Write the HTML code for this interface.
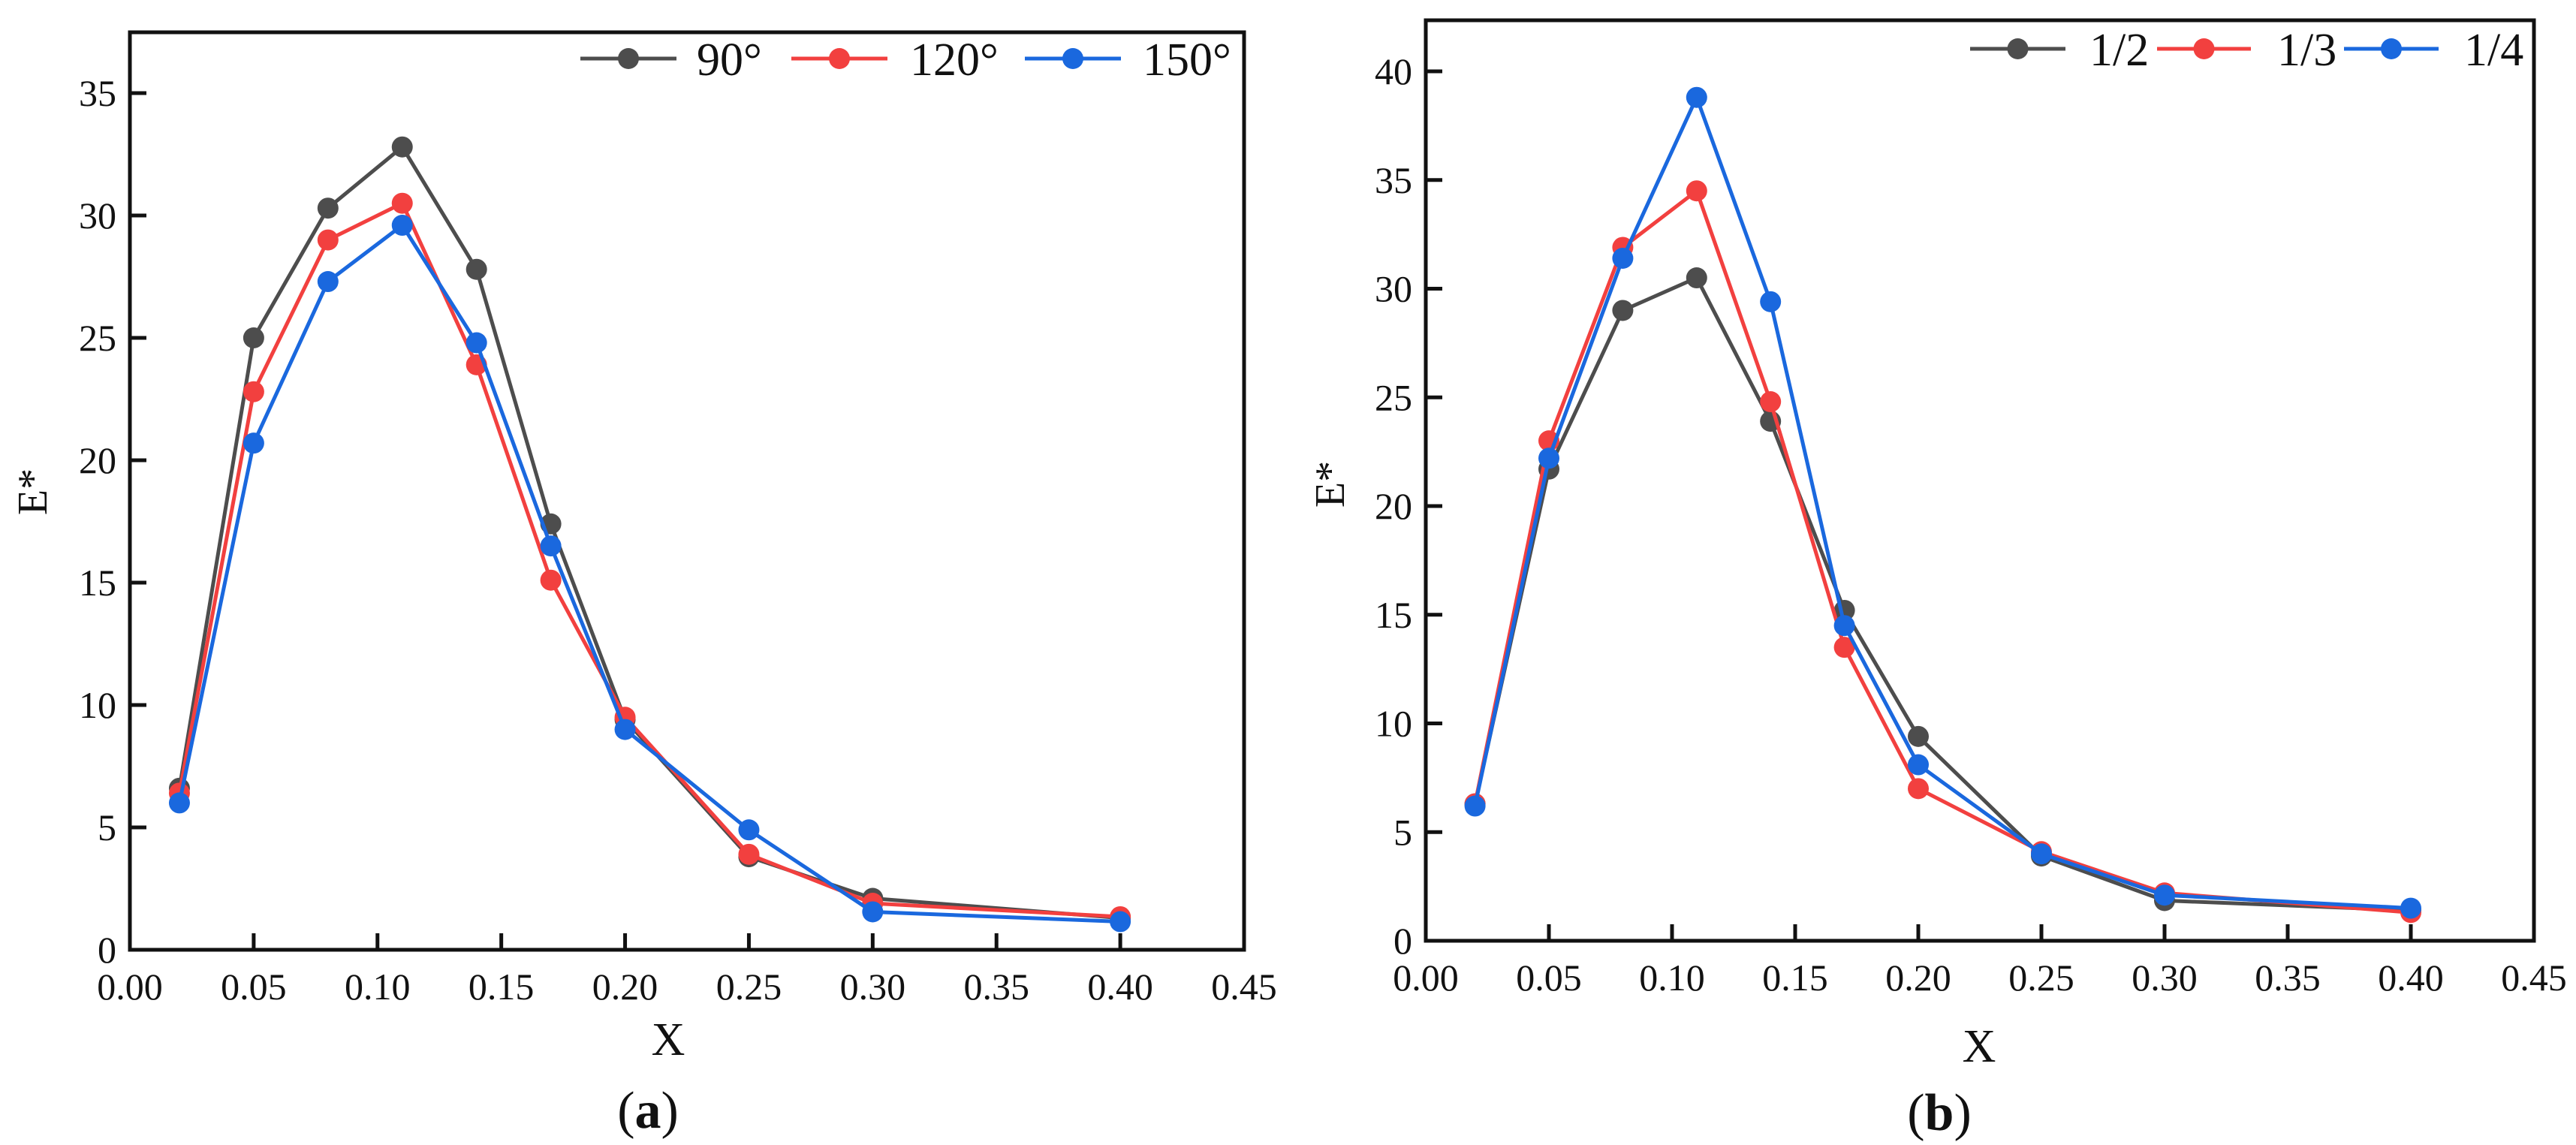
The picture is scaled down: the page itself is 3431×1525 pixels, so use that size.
<!DOCTYPE html>
<html><head><meta charset="utf-8">
<style>
html,body{margin:0;padding:0;background:#fff;}
svg{display:block;}
text{font-family:"Liberation Serif","Times New Roman",serif;fill:#111;}
</style></head>
<body>
<svg id="fig" width="3431" height="1525" viewBox="0 0 3431 1525" xmlns="http://www.w3.org/2000/svg"></svg>
<script>
// ---- data ----
const xValues = [0.02,0.05,0.08,0.11,0.14,0.17,0.20,0.25,0.30,0.40];
const xTicks = [0.00,0.05,0.10,0.15,0.20,0.25,0.30,0.35,0.40,0.45];
const xTickLabels = ["0.00","0.05","0.10","0.15","0.20","0.25","0.30","0.35","0.40","0.45"];
const leftYTicks = [0,5,10,15,20,25,30,35];
const rightYTicks = [0,5,10,15,20,25,30,35,40];
const leftNames = ["90°","120°","150°"];
const left90 = [6.6,25.0,30.3,32.8,27.8,17.4,9.4,3.8,2.1,1.3];
const left120 = [6.4,22.8,29.0,30.5,23.9,15.1,9.5,3.9,1.9,1.35];
const left150 = [6.0,20.7,27.3,29.6,24.8,16.5,9.0,4.9,1.55,1.15];
const rightNames = ["1/2","1/3","1/4"];
const rightHalf = [6.3,21.7,29.0,30.5,23.9,15.2,9.4,3.9,1.85,1.4];
const rightThird = [6.3,23.0,31.9,34.5,24.8,13.5,7.0,4.1,2.2,1.3];
const rightQuarter = [6.2,22.2,31.4,38.8,29.4,14.5,8.1,4.0,2.1,1.5];
const colors = ["#4d4d4d","#f2403f","#1a68de"];

const NS="http://www.w3.org/2000/svg";
const svg=document.getElementById('fig');
function mk(tag,attrs,parent){const e=document.createElementNS(NS,tag);for(const k in attrs)e.setAttribute(k,attrs[k]);(parent||svg).appendChild(e);return e;}

function panel(cfg){
  const g=mk('g',{});
  
  
  const X=v=>cfg.x0+(v-0)/(0.45)*(cfg.x1-cfg.x0);
  const Y=v=>cfg.yb-(v/5)*cfg.per5;
  cfg.series.forEach((s,si)=>{
    const sg=mk('g',{},g);
    
    
    const pts=xValues.map((x,i)=>X(x).toFixed(1)+','+Y(s[i]).toFixed(1)).join(' ');
    const pl=mk('polyline',{points:pts,fill:'none',stroke:colors[si],'stroke-width':5,'stroke-linejoin':'round'},sg);
    
    
    xValues.forEach((x,i)=>{
      const c=mk('circle',{cx:X(x),cy:Y(s[i]),r:14,fill:colors[si]},sg);
      
      
    });
  });
  const fr=mk('rect',{x:cfg.x0,y:cfg.yt,width:cfg.x1-cfg.x0,height:cfg.yb-cfg.yt,fill:'none',stroke:'#111','stroke-width':5},g);
  
  
  xTicks.forEach((t,i)=>{
    const tk=mk('line',{x1:X(t),x2:X(t),y1:cfg.yb,y2:cfg.yb-22,stroke:'#111','stroke-width':5},g);
    
    
    const tl=mk('text',{x:X(t),y:cfg.yb+66,'font-size':50,'text-anchor':'middle'},g);
    tl.textContent=xTickLabels[i];
    
    
  });
  cfg.yTicks.forEach(t=>{
    const tk=mk('line',{x1:cfg.x0,x2:cfg.x0+22,y1:Y(t),y2:Y(t),stroke:'#111','stroke-width':5},g);
    
    
    const tl=mk('text',{x:cfg.x0-18,y:Y(t)+17,'font-size':50,'text-anchor':'end'},g);
    tl.textContent=String(t);
    
    
  });
  const yt=mk('text',{x:cfg.ytx,y:cfg.yty,'font-size':56,'text-anchor':'middle',transform:`rotate(-90 ${cfg.ytx} ${cfg.yty})`},g);
  yt.textContent='E*';
  
  
  const xt=mk('text',{x:cfg.xtx,y:cfg.xty,'font-size':62,'text-anchor':'middle'},g);
  xt.textContent='X';
  
  
  const cap=mk('text',{x:cfg.capx,y:cfg.capy,'font-size':70,'text-anchor':'middle'},g);
  cap.innerHTML='(<tspan font-weight="bold">'+cfg.letter+'</tspan>)';
  
  
  cfg.legend.forEach((L,i)=>{
    const lg=mk('g',{},g);
    
    
    mk('line',{x1:L.l1,x2:L.l2,y1:cfg.legy,y2:cfg.legy,stroke:colors[i],'stroke-width':5},lg);
    mk('circle',{cx:(L.l1+L.l2)/2,cy:cfg.legy,r:14,fill:colors[i]},lg);
    const tx=mk('text',{x:L.tx,y:cfg.legy+22,'font-size':cfg.legfs},lg);
    tx.textContent=cfg.names[i];
  });
}

panel({name:'chart-a',x0:173,x1:1657,yt:43,yb:1265,per5:163,yTicks:leftYTicks,
  series:[left90,left120,left150],names:leftNames,letter:'a',
  ytx:62,yty:655,xtx:890,xty:1405,capx:863,capy:1502,
  legy:78,legfs:62,
  legend:[{l1:773,l2:901,tx:928},{l1:1054,l2:1182,tx:1212},{l1:1365,l2:1493,tx:1522}]});
panel({name:'chart-b',x0:1899,x1:3375,yt:27,yb:1253,per5:144.75,yTicks:rightYTicks,
  series:[rightHalf,rightThird,rightQuarter],names:rightNames,letter:'b',
  ytx:1790,yty:645,xtx:2636,xty:1414,capx:2583,capy:1505,
  legy:65,legfs:62,
  legend:[{l1:2624,l2:2751,tx:2783},{l1:2873,l2:2998,tx:3033},{l1:3122,l2:3248,tx:3282}]});
</script>
</body></html>
